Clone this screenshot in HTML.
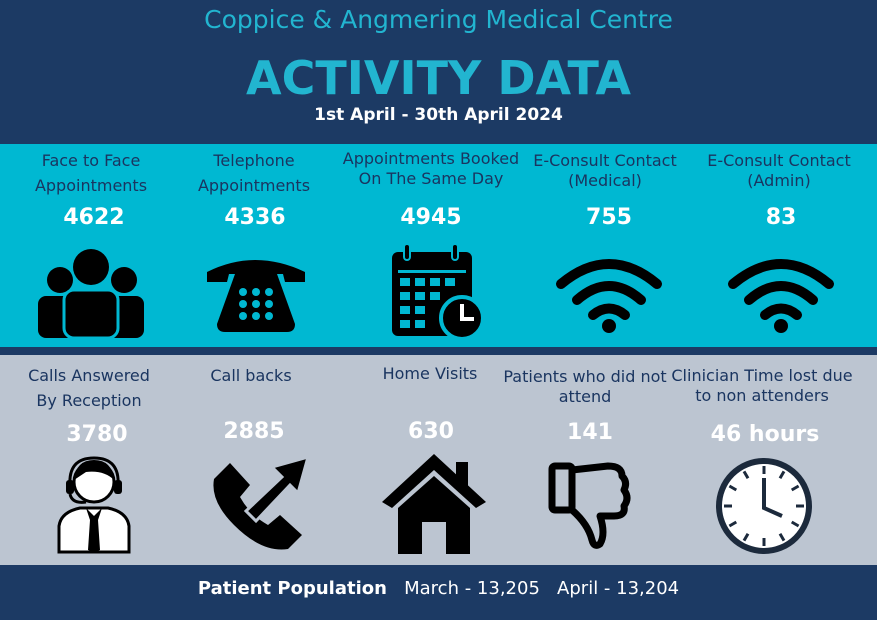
<!DOCTYPE html>
<html><head><meta charset="utf-8"><style>
*{margin:0;padding:0}
body{width:877px;height:620px;overflow:hidden;background:#1c3a64;font-family:"DejaVu Sans","Liberation Sans",sans-serif;position:relative}
.a{position:absolute;text-align:center;white-space:nowrap}
.lab{color:#1a3560;font-size:16px;line-height:25px;width:170px}
.lab2{color:#1a3560;font-size:16px;line-height:20px;width:190px}
.num{color:#fff;font-weight:bold;font-size:22px;width:170px}
svg{position:absolute}
</style></head><body>
<div class="a" style="left:0;width:877px;top:5px;color:#22b5d0;font-size:25px">Coppice &amp; Angmering Medical Centre</div>
<div class="a" style="left:0;width:877px;top:51px;color:#22b5d0;font-size:46px;font-weight:bold">ACTIVITY DATA</div>
<div class="a" style="left:0;width:877px;top:105px;color:#fff;font-size:17px;font-weight:bold">1st April - 30th April 2024</div>
<div style="position:absolute;left:0;top:144px;width:877px;height:203px;background:#00b8d2"></div>
<div style="position:absolute;left:0;top:355px;width:877px;height:210px;background:#bcc5d1"></div>

<div class="a lab" style="left:6px;top:148px">Face to Face<br>Appointments</div>
<div class="a lab" style="left:169px;top:148px">Telephone<br>Appointments</div>
<div class="a lab2" style="left:336px;top:149px">Appointments Booked<br>On The Same Day</div>
<div class="a lab2" style="left:510px;top:151px">E-Consult Contact<br>(Medical)</div>
<div class="a lab2" style="left:684px;top:151px">E-Consult Contact<br>(Admin)</div>
<div class="a num" style="left:9px;top:205px">4622</div>
<div class="a num" style="left:170px;top:205px">4336</div>
<div class="a num" style="left:346px;top:205px">4945</div>
<div class="a num" style="left:524px;top:205px">755</div>
<div class="a num" style="left:696px;top:205px">83</div>

<div class="a lab" style="left:4px;top:363px">Calls Answered<br>By Reception</div>
<div class="a lab" style="left:166px;top:363px">Call backs</div>
<div class="a lab" style="left:345px;top:361px">Home Visits</div>
<div class="a lab2" style="left:490px;top:367px">Patients who did not<br>attend</div>
<div class="a lab2" style="left:667px;top:366px">Clinician Time lost due<br>to non attenders</div>
<div class="a num" style="left:12px;top:422px">3780</div>
<div class="a num" style="left:169px;top:419px">2885</div>
<div class="a num" style="left:346px;top:419px">630</div>
<div class="a num" style="left:505px;top:420px">141</div>
<div class="a num" style="left:680px;top:422px">46 hours</div>

<div class="a" style="left:0;width:877px;top:578px;color:#fff;font-size:18px"><b>Patient Population</b>&nbsp;&nbsp; March - 13,205 &nbsp; April - 13,204</div>

<svg style="left:36px;top:248px" width="110" height="92" viewBox="0 0 110 92">
<circle cx="55" cy="19" r="18"/><circle cx="24" cy="32" r="13"/><circle cx="88" cy="32" r="13"/>
<rect x="2" y="48" width="36" height="42" rx="8"/><rect x="72" y="48" width="36" height="42" rx="8"/>
<rect x="28" y="42" width="54" height="48" rx="10" stroke="#00b8d2" stroke-width="3"/></svg>
<svg style="left:205px;top:252px" width="102" height="82" viewBox="0 0 102 82">
<path d="M2 20 Q50 -4 100 20 L100 30 L80 30 L78 22 L24 22 L22 30 L2 30Z"/>
<path d="M30 22 L72 22 L90 72 Q90 80 82 80 L20 80 Q12 80 12 72Z"/>
<g fill="#00b8d2"><circle cx="38" cy="40" r="4"/><circle cx="51" cy="40" r="4"/><circle cx="64" cy="40" r="4"/><circle cx="38" cy="52" r="4"/><circle cx="51" cy="52" r="4"/><circle cx="64" cy="52" r="4"/><circle cx="38" cy="64" r="4"/><circle cx="51" cy="64" r="4"/><circle cx="64" cy="64" r="4"/></g></svg>
<svg style="left:390px;top:244px" width="96" height="96" viewBox="0 0 96 96">
<rect x="2" y="8" width="80" height="84" rx="6"/><rect x="14" y="0" width="6" height="16" rx="3" fill="#000" stroke="#00b8d2" stroke-width="2"/><rect x="62" y="0" width="6" height="16" rx="3" stroke="#00b8d2" stroke-width="2"/>
<g fill="#00b8d2"><rect x="8" y="26" width="68" height="3"/>
<rect x="10" y="34" width="10" height="8"/><rect x="25" y="34" width="10" height="8"/><rect x="40" y="34" width="10" height="8"/><rect x="55" y="34" width="10" height="8"/>
<rect x="10" y="48" width="10" height="8"/><rect x="25" y="48" width="10" height="8"/><rect x="40" y="48" width="10" height="8"/>
<rect x="10" y="62" width="10" height="8"/><rect x="25" y="62" width="10" height="8"/>
<rect x="10" y="76" width="10" height="8"/><rect x="25" y="76" width="10" height="8"/></g>
<circle cx="72" cy="74" r="21" stroke="#00b8d2" stroke-width="4"/><path d="M72 60 V75 H84" stroke="#fff" stroke-width="4" fill="none"/></svg>
<svg style="left:555px;top:254px" width="108" height="80" viewBox="0 0 108 80">
<g fill="none" stroke="#000" stroke-width="10" stroke-linecap="round"><path d="M6 30 Q54 -10 102 30"/><path d="M22 46 Q54 18 86 46"/><path d="M38 61 Q54 48 70 61"/></g><circle cx="54" cy="72" r="7"/></svg>
<svg style="left:727px;top:254px" width="108" height="80" viewBox="0 0 108 80">
<g fill="none" stroke="#000" stroke-width="10" stroke-linecap="round"><path d="M6 30 Q54 -10 102 30"/><path d="M22 46 Q54 18 86 46"/><path d="M38 61 Q54 48 70 61"/></g><circle cx="54" cy="72" r="7"/></svg>
<svg style="left:56px;top:456px" width="76" height="98" viewBox="0 0 76 98">
<circle cx="38" cy="26" r="20" fill="#fff" stroke="#000" stroke-width="3"/><path d="M18 24 Q20 4 38 4 Q56 4 58 24 Q48 14 30 16Z"/>
<path d="M14 30 Q12 2 38 2 Q64 2 62 30" fill="none" stroke="#000" stroke-width="3"/><rect x="10" y="24" width="8" height="14" rx="3"/><rect x="58" y="24" width="8" height="14" rx="3"/>
<path d="M14 38 Q16 48 30 46" fill="none" stroke="#000" stroke-width="3"/>
<path d="M3 96 L3 70 Q5 56 24 52 L52 52 Q71 56 73 70 L73 96Z" fill="#fff" stroke="#000" stroke-width="3"/>
<path d="M30 52 L38 60 L46 52 L42 64 L44 94 L38 96 L32 94 L34 64Z"/></svg>
<svg style="left:210px;top:455px" width="100" height="96" viewBox="0 0 100 96">
<path d="M4 24 L20 8 L40 30 L30 42 Q40 60 58 70 L70 60 L92 80 L78 94 Q52 98 24 70 Q0 46 4 24Z"/>
<path d="M36 56 L72 22 L62 12 L98 2 L88 38 L80 30 L46 66Z" stroke="#bcc5d1" stroke-width="3"/></svg>
<svg style="left:380px;top:452px" width="108" height="104" viewBox="0 0 108 104">
<path d="M54 2 L106 50 L96 56 L54 18 L12 56 L2 50Z"/><rect x="76" y="10" width="12" height="26"/>
<path d="M18 56 L54 24 L90 56 L90 102 L66 102 L66 70 L42 70 L42 102 L18 102Z"/></svg>
<svg style="left:548px;top:460px" width="84" height="90" viewBox="0 0 84 90">
<g fill="none" stroke="#000" stroke-width="7" stroke-linejoin="round">
<rect x="4" y="6" width="20" height="44" rx="3"/>
<path d="M24 10 L60 6 Q74 6 74 16 Q80 22 76 30 Q82 38 76 46 Q78 56 66 56 L52 56 Q58 74 52 84 Q46 88 44 80 Q40 64 24 50"/></g></svg>
<svg style="left:714px;top:456px" width="100" height="100" viewBox="0 0 100 100">
<circle cx="50" cy="50" r="45" fill="#fff" stroke="#1c2a3c" stroke-width="6"/>
<g stroke="#1c2a3c" stroke-width="3"><line x1="50" y1="10" x2="50" y2="18"/><line x1="50" y1="82" x2="50" y2="90"/><line x1="10" y1="50" x2="18" y2="50"/><line x1="82" y1="50" x2="90" y2="50"/>
<line x1="70" y1="15.4" x2="66" y2="22.3"/><line x1="84.6" y1="30" x2="77.7" y2="34"/><line x1="84.6" y1="70" x2="77.7" y2="66"/><line x1="70" y1="84.6" x2="66" y2="77.7"/><line x1="30" y1="84.6" x2="34" y2="77.7"/><line x1="15.4" y1="70" x2="22.3" y2="66"/><line x1="15.4" y1="30" x2="22.3" y2="34"/><line x1="30" y1="15.4" x2="34" y2="22.3"/></g>
<path d="M50 22 L50 52 L68 60" fill="none" stroke="#1c2a3c" stroke-width="4"/></svg>
</body></html>
